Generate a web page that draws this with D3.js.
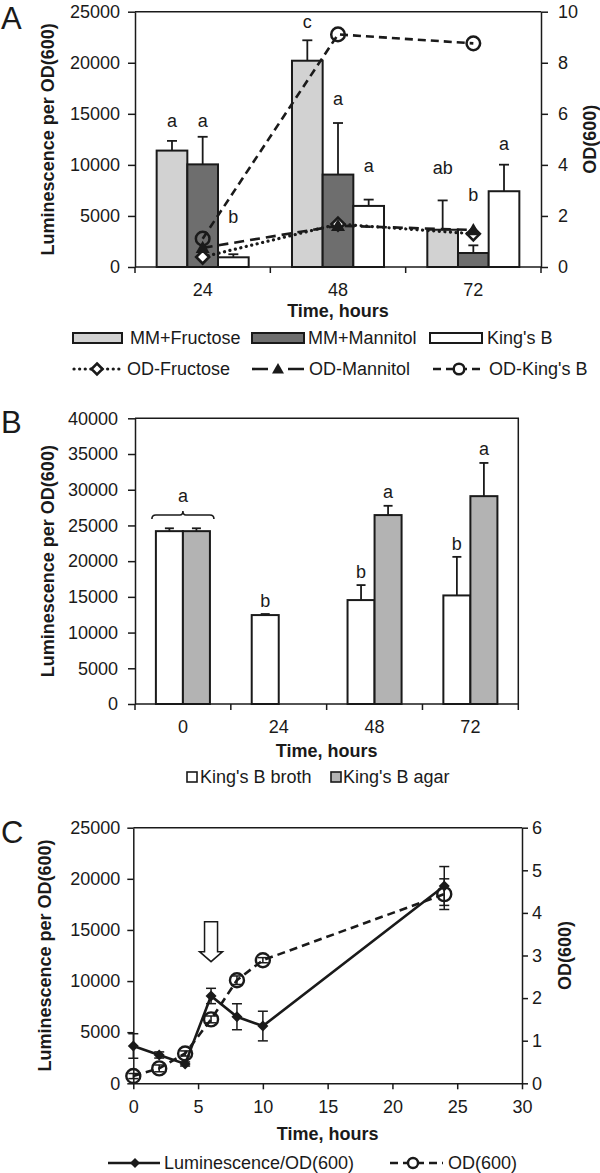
<!DOCTYPE html>
<html><head><meta charset="utf-8">
<script src="https://cdn.jsdelivr.net/npm/d3@7"></script>
<style>body{margin:0;background:#fff} svg{display:block;font-family:"Liberation Sans",Arial,sans-serif}</style>
</head><body><svg id="chart" width="600" height="1173"></svg>
<script>
// ---------------- DATA ----------------
// Panel A
const timesA = ["24", "48", "72"];
const seriesA = ["MM+Fructose", "MM+Mannitol", "King's B"];
const lumFructoseA = [11400, 20200, 3650];
const lumMannitolA = [10050, 9050, 1370];
const lumKingsBA = [950, 5980, 7420];
const errFructoseA = [950, 2000, 2870];
const errMannitolA = [2700, 5050, 750];
const errKingsBA = [300, 620, 2600];
const lettersFructoseA = ["a", "c", "ab"];
const lettersMannitolA = ["a", "a", "b"];
const lettersKingsBA = ["b", "a", "a"];
const letterLevelFructoseA = [13740, 23390, 9130];
const letterLevelMannitolA = [13740, 15850, 6490];
const letterLevelKingsBA = [4330, 9280, 11440];
const odFructoseA = [0.39, 1.68, 1.30];
const odMannitolA = [0.75, 1.62, 1.45];
const odKingsBA = [1.11, 9.11, 8.76];
const lumTicksA = [0, 5000, 10000, 15000, 20000, 25000];
const odTicksA = [0, 2, 4, 6, 8, 10];

// Panel B
const timesB = ["0", "24", "48", "72"];
const seriesB = ["King's B broth", "King's B agar"];
const lumBrothB = [24200, 12450, 14550, 15200];
const lumAgarB = [24200, null, 26450, 29100];
const errBrothB = [400, 150, 2100, 5400];
const errAgarB = [400, null, 1300, 4650];
const lettersBrothB = [null, "b", "b", "b"];
const lettersAgarB = [null, null, "a", "a"];
const letterLevelBrothB = [null, 13650, 17640, 21590];
const letterLevelAgarB = [null, null, 28910, 34860];
const groupLetterB = "a";          // shared letter over both bars at 0 h
const groupLetterLevelB = 28350;
const groupBracketLevelB = 26460;
const lumTicksB = [0, 5000, 10000, 15000, 20000, 25000, 30000, 35000, 40000];

// Panel C
const hoursC = [0, 2, 4, 6, 8, 10, 24];
const lumC = [3650, 2770, 1890, 8540, 6510, 5600, 19300];
const lumErrC = [1200, 300, 200, 750, 1270, 1450, 1900];
const odC = [0.17, 0.35, 0.70, 1.50, 2.42, 2.89, 4.44];
const odErrC = [0.06, 0.08, 0.06, 0.08, 0.1, 0.06, 0.36];
const arrowHourC = 6;
const arrowFromC = 15800, arrowToC = 11900;
const xTicksC = [0, 5, 10, 15, 20, 25, 30];
const lumTicksC = [0, 5000, 10000, 15000, 20000, 25000];
const odTicksC = [0, 1, 2, 3, 4, 5, 6];

// ---------------- DRAW ----------------
const svg = d3.select("#chart");
const ink = "#1a1a1a";
const FS = 18;

function styleAxis(g) {
  g.selectAll(".domain").attr("stroke", ink).attr("stroke-width", 1.5);
  g.selectAll(".tick line").attr("stroke", ink).attr("stroke-width", 1.5);
  g.selectAll(".tick text").attr("fill", ink).attr("font-size", FS).attr("font-family", "Liberation Sans, Arial, sans-serif");
}
function title(x, y, txt, rot, size, bold) {
  const t = svg.append("text").attr("fill", ink).attr("font-size", size || FS)
    .attr("font-weight", bold === false ? "normal" : "bold").attr("text-anchor", "middle").text(txt);
  if (rot) t.attr("transform", `translate(${x},${y}) rotate(-90)`).attr("dominant-baseline", "central");
  else t.attr("x", x).attr("y", y);
  return t;
}
const diamond = r => `M0,${-r}L${r},0L0,${r}L${-r},0Z`;
const triangle = r => `M0,${-r}L${r},${r * 0.75}L${-r},${r * 0.75}Z`;

// ===== Panel A =====
{
  const L = 135, R = 541, T = 11.7, B = 267;
  const x = d3.scaleBand().domain(timesA).range([L, R]);
  const bw = x.bandwidth();
  const gw = bw * 0.68;
  const x1 = d3.scaleBand().domain(seriesA).range([(bw - gw) / 2, (bw + gw) / 2]);
  const y = d3.scaleLinear().domain([0, 25000]).range([B, T]);
  const y2 = d3.scaleLinear().domain([0, 10]).range([B, T]);
  const fills = { "MM+Fructose": "#d2d2d2", "MM+Mannitol": "#6e6e6e", "King's B": "#ffffff" };
  const vals = [lumFructoseA, lumMannitolA, lumKingsBA];
  const errs = [errFructoseA, errMannitolA, errKingsBA];
  const lets = [lettersFructoseA, lettersMannitolA, lettersKingsBA];
  const lvls = [letterLevelFructoseA, letterLevelMannitolA, letterLevelKingsBA];
  const rows = [];
  seriesA.forEach((s, i) => timesA.forEach((t, j) => rows.push({ s, t, v: vals[i][j], e: errs[i][j], l: lets[i][j], lv: lvls[i][j] })));

  svg.append("line").attr("x1", L).attr("x2", R).attr("y1", T).attr("y2", T).attr("stroke", ink).attr("stroke-width", 1.5);

  svg.append("g").selectAll("rect").data(rows).join("rect")
    .attr("x", d => x(d.t) + x1(d.s)).attr("width", x1.bandwidth())
    .attr("y", d => y(d.v)).attr("height", d => y(0) - y(d.v))
    .attr("fill", d => fills[d.s]).attr("stroke", ink).attr("stroke-width", 2);
  const ge = svg.append("g").attr("stroke", ink).attr("stroke-width", 1.8);
  rows.forEach(d => {
    const cx = x(d.t) + x1(d.s) + x1.bandwidth() / 2;
    ge.append("line").attr("x1", cx).attr("x2", cx).attr("y1", y(d.v)).attr("y2", y(d.v + d.e));
    ge.append("line").attr("x1", cx - 5).attr("x2", cx + 5).attr("y1", y(d.v + d.e)).attr("y2", y(d.v + d.e));
  });
  svg.append("g").selectAll("text").data(rows).join("text")
    .attr("x", d => x(d.t) + x1(d.s) + x1.bandwidth() / 2).attr("y", d => y(d.lv))
    .attr("text-anchor", "middle").attr("font-size", FS).attr("fill", ink).text(d => d.l);

  const ga = svg.append("g").attr("transform", `translate(${L},0)`)
    .call(d3.axisLeft(y).tickValues(lumTicksA).tickSize(7).tickSizeOuter(0).tickPadding(8).tickFormat(d3.format("d")));
  styleAxis(ga);
  const gr = svg.append("g").attr("transform", `translate(${R},0)`)
    .call(d3.axisRight(y2).tickValues(odTicksA).tickSize(7).tickSizeOuter(0).tickPadding(10).tickFormat(d3.format("d")));
  styleAxis(gr);
  const gx = svg.append("g").attr("transform", `translate(0,${B})`)
    .call(d3.axisBottom(x).tickSize(0).tickPadding(16.7));
  styleAxis(gx);
  gx.select(".domain").attr("d", `M${L},0H${R}`);
  d3.range(timesA.length + 1).forEach(i => gx.append("line").attr("x1", L + i * x.step()).attr("x2", L + i * x.step())
    .attr("y1", 0).attr("y2", 6).attr("stroke", ink).attr("stroke-width", 1.5));

  const cx = t => x(t) + bw / 2;
  const line = arr => d3.line().x((d, i) => cx(timesA[i])).y(d => y2(d))(arr);
  svg.append("path").attr("d", line(odKingsBA)).attr("fill", "none").attr("stroke", ink).attr("stroke-width", 2.6).attr("stroke-dasharray", "8 5");
  svg.append("path").attr("d", line(odMannitolA)).attr("fill", "none").attr("stroke", ink).attr("stroke-width", 2.6).attr("stroke-dasharray", "10 6");
  svg.append("path").attr("d", line(odFructoseA)).attr("fill", "none").attr("stroke", ink).attr("stroke-width", 3.2).attr("stroke-dasharray", "0.1 5.5").attr("stroke-linecap", "round");
  odKingsBA.forEach((d, i) => svg.append("circle").attr("cx", cx(timesA[i])).attr("cy", y2(d)).attr("r", 6.8).attr("fill", "none").attr("stroke", ink).attr("stroke-width", 2.5));
  odFructoseA.forEach((d, i) => svg.append("path").attr("d", diamond(6.5)).attr("transform", `translate(${cx(timesA[i])},${y2(d)})`).attr("fill", "#fff").attr("stroke", ink).attr("stroke-width", 2.6));
  odMannitolA.forEach((d, i) => svg.append("path").attr("d", triangle(7)).attr("transform", `translate(${cx(timesA[i])},${y2(d)})`).attr("fill", ink));

  title(47.5, (T + B) / 2, "Luminescence per OD(600)", true);
  title(590, (T + B) / 2, "OD(600)", true);
  title((L + R) / 2, 316.5, "Time, hours");
  svg.append("text").attr("x", 1).attr("y", 29).attr("font-size", 31).attr("fill", ink).text("A");

  const ly1 = 338, ly2 = 369;
  const sw = [[73, 122, 130], [252, 304, 308], [430, 482, 487]];
  seriesA.forEach((s, i) => {
    svg.append("rect").attr("x", sw[i][0]).attr("y", ly1 - 5).attr("width", sw[i][1] - sw[i][0]).attr("height", 10)
      .attr("fill", fills[s]).attr("stroke", ink).attr("stroke-width", 2);
    svg.append("text").attr("x", sw[i][2]).attr("y", ly1 + 6.4).attr("font-size", FS).attr("fill", ink).text(s);
  });
  svg.append("line").attr("x1", 74).attr("x2", 120).attr("y1", ly2).attr("y2", ly2).attr("stroke", ink).attr("stroke-width", 3.2).attr("stroke-dasharray", "0.1 5.5").attr("stroke-linecap", "round");
  svg.append("path").attr("d", diamond(5.5)).attr("transform", `translate(97,${ly2})`).attr("fill", "#fff").attr("stroke", ink).attr("stroke-width", 2.6);
  svg.append("text").attr("x", 127).attr("y", ly2 + 6.4).attr("font-size", FS).attr("fill", ink).text("OD-Fructose");
  svg.append("line").attr("x1", 252).attr("x2", 304).attr("y1", ly2).attr("y2", ly2).attr("stroke", ink).attr("stroke-width", 2.6).attr("stroke-dasharray", "16 20");
  svg.append("path").attr("d", triangle(6)).attr("transform", `translate(278,${ly2})`).attr("fill", ink);
  svg.append("text").attr("x", 309).attr("y", ly2 + 6.4).attr("font-size", FS).attr("fill", ink).text("OD-Mannitol");
  svg.append("line").attr("x1", 433).attr("x2", 485).attr("y1", ly2).attr("y2", ly2).attr("stroke", ink).attr("stroke-width", 2.6).attr("stroke-dasharray", "8 5");
  svg.append("circle").attr("cx", 459).attr("cy", ly2).attr("r", 5.3).attr("fill", "#fff").attr("stroke", ink).attr("stroke-width", 2.5);
  svg.append("text").attr("x", 489).attr("y", ly2 + 6.4).attr("font-size", FS).attr("fill", ink).text("OD-King's B");
}

// ===== Panel B =====
{
  const L = 135, R = 518.3, T = 418.3, B = 704;
  const x = d3.scaleBand().domain(timesB).range([L, R]);
  const bw = x.bandwidth();
  const gw = bw * 0.564;
  const x1 = d3.scaleBand().domain(seriesB).range([(bw - gw) / 2, (bw + gw) / 2]);
  const y = d3.scaleLinear().domain([0, 40000]).range([B, T]);
  const fills = { "King's B broth": "#ffffff", "King's B agar": "#b3b3b3" };
  const vals = [lumBrothB, lumAgarB], errs = [errBrothB, errAgarB], lets = [lettersBrothB, lettersAgarB], lvls = [letterLevelBrothB, letterLevelAgarB];
  const rows = [];
  seriesB.forEach((s, i) => timesB.forEach((t, j) => { if (vals[i][j] != null) rows.push({ s, t, v: vals[i][j], e: errs[i][j], l: lets[i][j], lv: lvls[i][j] }); }));

  svg.append("path").attr("d", `M${L},${T}H${R}V${B}`).attr("fill", "none").attr("stroke", ink).attr("stroke-width", 1.5);
  svg.append("g").selectAll("rect").data(rows).join("rect")
    .attr("x", d => x(d.t) + x1(d.s)).attr("width", x1.bandwidth())
    .attr("y", d => y(d.v)).attr("height", d => y(0) - y(d.v))
    .attr("fill", d => fills[d.s]).attr("stroke", ink).attr("stroke-width", 2);
  const ge = svg.append("g").attr("stroke", ink).attr("stroke-width", 1.8);
  rows.forEach(d => {
    const cx = x(d.t) + x1(d.s) + x1.bandwidth() / 2;
    ge.append("line").attr("x1", cx).attr("x2", cx).attr("y1", y(d.v)).attr("y2", y(d.v + d.e));
    ge.append("line").attr("x1", cx - 4.5).attr("x2", cx + 4.5).attr("y1", y(d.v + d.e)).attr("y2", y(d.v + d.e));
  });
  svg.append("g").selectAll("text").data(rows.filter(d => d.l)).join("text")
    .attr("x", d => x(d.t) + x1(d.s) + x1.bandwidth() / 2).attr("y", d => y(d.lv))
    .attr("text-anchor", "middle").attr("font-size", FS).attr("fill", ink).text(d => d.l);
  {
    const gx0 = x(timesB[0]);
    const x0 = gx0 + x1(seriesB[0]) - 4, x2 = gx0 + x1(seriesB[1]) + x1.bandwidth() + 4, xc = gx0 + bw / 2;
    const yb = y(groupBracketLevelB);
    svg.append("path").attr("d", `M${x0},${yb + 4}Q${x0},${yb} ${x0 + 4},${yb}L${xc - 3},${yb}Q${xc},${yb} ${xc},${yb - 4}Q${xc},${yb} ${xc + 3},${yb}L${x2 - 4},${yb}Q${x2},${yb} ${x2},${yb + 4}`)
      .attr("fill", "none").attr("stroke", ink).attr("stroke-width", 1.6);
    svg.append("text").attr("x", xc).attr("y", y(groupLetterLevelB)).attr("text-anchor", "middle").attr("font-size", FS).attr("fill", ink).text(groupLetterB);
  }
  const ga = svg.append("g").attr("transform", `translate(${L},0)`)
    .call(d3.axisLeft(y).tickValues(lumTicksB).tickSize(7).tickSizeOuter(0).tickPadding(10).tickFormat(d3.format("d")));
  styleAxis(ga);
  const gx = svg.append("g").attr("transform", `translate(0,${B})`)
    .call(d3.axisBottom(x).tickSize(0).tickPadding(16.7));
  styleAxis(gx);
  gx.select(".domain").attr("d", `M${L},0H${R}`);
  d3.range(timesB.length + 1).forEach(i => gx.append("line").attr("x1", L + i * x.step()).attr("x2", L + i * x.step())
    .attr("y1", 0).attr("y2", 6).attr("stroke", ink).attr("stroke-width", 1.5));

  title(47.5, (T + B) / 2, "Luminescence per OD(600)", true);
  title((L + R) / 2, 756.5, "Time, hours");
  svg.append("text").attr("x", 1).attr("y", 433).attr("font-size", 31).attr("fill", ink).text("B");

  const ly = 777;
  const pos = [[187, 200], [331, 343]];
  seriesB.forEach((s, i) => {
    svg.append("rect").attr("x", pos[i][0]).attr("y", ly - 5).attr("width", 10).attr("height", 10)
      .attr("fill", fills[s]).attr("stroke", ink).attr("stroke-width", 1.6);
    svg.append("text").attr("x", pos[i][1]).attr("y", ly + 6.4).attr("font-size", FS).attr("fill", ink).text(s);
  });
}

// ===== Panel C =====
{
  const L = 133.3, R = 522, T = 827.7, B = 1083.3;
  const x = d3.scaleLinear().domain([0, 30]).range([L, R]);
  const y = d3.scaleLinear().domain([0, 25000]).range([B, T]);
  const y2 = d3.scaleLinear().domain([0, 6]).range([B, T]);

  svg.append("line").attr("x1", L).attr("x2", R).attr("y1", T).attr("y2", T).attr("stroke", ink).attr("stroke-width", 1.5);

  const ga = svg.append("g").attr("transform", `translate(${L},0)`)
    .call(d3.axisLeft(y).tickValues(lumTicksC).tickSize(6).tickSizeOuter(0).tickPadding(7).tickFormat(d3.format("d")));
  styleAxis(ga);
  const gr = svg.append("g").attr("transform", `translate(${R},0)`)
    .call(d3.axisRight(y2).tickValues(odTicksC).tickSize(6).tickSizeOuter(0).tickPadding(4).tickFormat(d3.format("d")));
  styleAxis(gr);
  const gx = svg.append("g").attr("transform", `translate(0,${B})`)
    .call(d3.axisBottom(x).tickValues(xTicksC).tickSize(6).tickSizeOuter(0).tickPadding(11.4).tickFormat(d3.format("d")));
  styleAxis(gx);

  const ge = svg.append("g").attr("stroke", ink).attr("stroke-width", 1.5);
  hoursC.forEach((h, i) => {
    const cx = x(h);
    [[y(lumC[i] - lumErrC[i]), y(lumC[i] + lumErrC[i])], [y2(odC[i] - odErrC[i]), y2(odC[i] + odErrC[i])]].forEach(([a, b]) => {
      ge.append("line").attr("x1", cx).attr("x2", cx).attr("y1", a).attr("y2", b);
      ge.append("line").attr("x1", cx - 5).attr("x2", cx + 5).attr("y1", a).attr("y2", a);
      ge.append("line").attr("x1", cx - 5).attr("x2", cx + 5).attr("y1", b).attr("y2", b);
    });
  });
  svg.append("path").attr("d", d3.line().x((d, i) => x(hoursC[i])).y(d => y2(d))(odC))
    .attr("fill", "none").attr("stroke", ink).attr("stroke-width", 2.6).attr("stroke-dasharray", "8 5");
  svg.append("path").attr("d", d3.line().x((d, i) => x(hoursC[i])).y(d => y(d))(lumC))
    .attr("fill", "none").attr("stroke", ink).attr("stroke-width", 2.6);
  lumC.forEach((d, i) => svg.append("path").attr("d", diamond(5.5)).attr("transform", `translate(${x(hoursC[i])},${y(d)})`).attr("fill", ink));
  odC.forEach((d, i) => svg.append("circle").attr("cx", x(hoursC[i])).attr("cy", y2(d)).attr("r", 7).attr("fill", "none").attr("stroke", ink).attr("stroke-width", 2.4));

  {
    const ax = x(arrowHourC), y0 = y(arrowFromC), y1 = y(arrowToC);
    const hh = 10, sw = 6.5, hw = 11.5;
    svg.append("path").attr("d", `M${ax - sw},${y0}H${ax + sw}V${y1 - hh}H${ax + hw}L${ax},${y1}L${ax - hw},${y1 - hh}H${ax - sw}Z`)
      .attr("fill", "#fff").attr("stroke", ink).attr("stroke-width", 1.5);
  }

  title(44.5, (T + B) / 2, "Luminescence per OD(600)", true);
  title(565, (T + B) / 2, "OD(600)", true);
  title((L + R) / 2, 1139.5, "Time, hours");
  svg.append("text").attr("x", 1).attr("y", 843).attr("font-size", 31).attr("fill", ink).text("C");

  const ly = 1163;
  svg.append("line").attr("x1", 108).attr("x2", 160).attr("y1", ly).attr("y2", ly).attr("stroke", ink).attr("stroke-width", 2.6);
  svg.append("path").attr("d", diamond(5)).attr("transform", `translate(135,${ly})`).attr("fill", ink);
  svg.append("text").attr("x", 164).attr("y", ly + 6.4).attr("font-size", FS).attr("fill", ink).text("Luminescence/OD(600)");
  svg.append("line").attr("x1", 390).attr("x2", 443).attr("y1", ly).attr("y2", ly).attr("stroke", ink).attr("stroke-width", 2.6).attr("stroke-dasharray", "8 5");
  svg.append("circle").attr("cx", 413).attr("cy", ly).attr("r", 5).attr("fill", "#fff").attr("stroke", ink).attr("stroke-width", 2.4);
  svg.append("text").attr("x", 448).attr("y", ly + 6.4).attr("font-size", FS).attr("fill", ink).text("OD(600)");
}
</script></body></html>
